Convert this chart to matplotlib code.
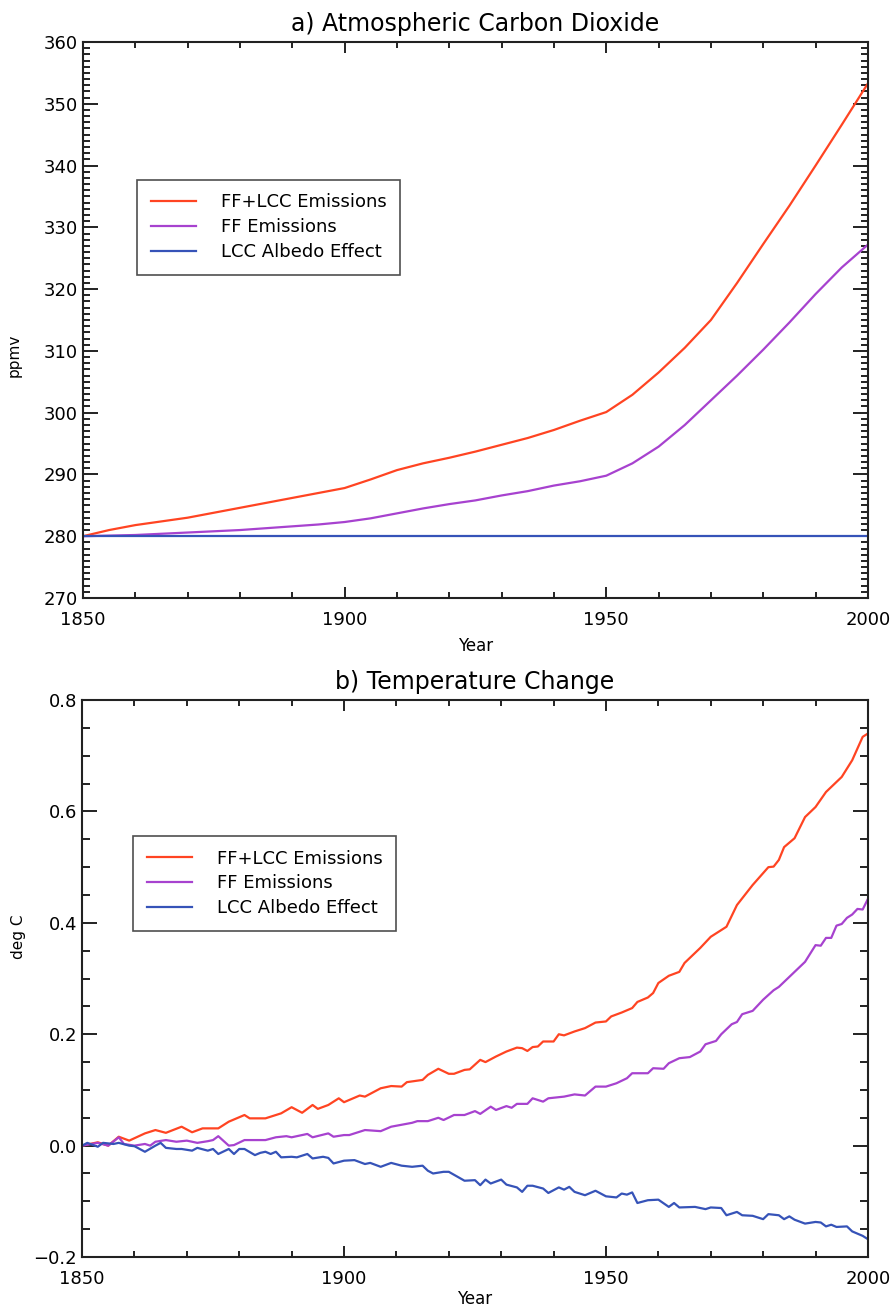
import matplotlib.pyplot as plt
from matplotlib.ticker import MultipleLocator, FuncFormatter

# ---- panel a: atmospheric CO2 (ppmv) ----
co2_years = [1850, 1855, 1860, 1865, 1870, 1875, 1880, 1885, 1890, 1895, 1900,
             1905, 1910, 1915, 1920, 1925, 1930, 1935, 1940, 1945, 1950,
             1955, 1960, 1965, 1970, 1975, 1980, 1985, 1990, 1995, 2000]
co2_ff_lcc = [280.0, 281.0, 281.8, 282.4, 283.0, 283.8, 284.6, 285.4, 286.2, 287.0, 287.8,
              289.2, 290.7, 291.8, 292.7, 293.7, 294.8, 295.9, 297.2, 298.7, 300.1,
              302.9, 306.5, 310.5, 315.0, 321.0, 327.3, 333.5, 340.0, 346.6, 353.3]
co2_ff = [280.0, 280.1, 280.2, 280.4, 280.6, 280.8, 281.0, 281.3, 281.6, 281.9, 282.3,
          282.9, 283.7, 284.5, 285.2, 285.8, 286.6, 287.3, 288.2, 288.9, 289.8,
          291.8, 294.5, 298.0, 302.0, 306.0, 310.2, 314.6, 319.2, 323.5, 327.2]
co2_lcc = [280.0] * len(co2_years)

# ---- panel b: temperature change (deg C) ----
t_ff_lcc_years = [1850, 1852, 1853, 1855, 1857, 1859, 1862, 1864, 1866, 1869, 1871, 1873,
                  1876, 1878, 1881, 1882, 1885, 1888, 1890, 1892, 1894, 1895, 1897, 1899,
                  1900, 1903, 1904, 1907, 1909, 1911, 1912, 1915, 1916, 1918, 1920, 1921,
                  1923, 1924, 1926, 1927, 1929, 1931, 1933, 1934, 1935, 1936, 1937, 1938,
                  1940, 1941, 1942, 1944, 1946, 1948, 1950, 1951, 1953, 1955, 1956, 1958,
                  1959, 1960, 1962, 1964, 1965, 1968, 1970, 1973, 1975, 1978, 1981, 1982,
                  1983, 1984, 1986, 1988, 1990, 1992, 1995, 1997, 1999, 2000]
t_ff_lcc = [0.000, 0.004, 0.006, 0.000, 0.016, 0.009, 0.022, 0.028, 0.023, 0.034, 0.024, 0.031,
            0.031, 0.043, 0.055, 0.049, 0.049, 0.058, 0.069, 0.059, 0.073, 0.066, 0.073, 0.085,
            0.078, 0.090, 0.088, 0.103, 0.107, 0.106, 0.114, 0.118, 0.127, 0.138, 0.129, 0.129,
            0.136, 0.137, 0.154, 0.150, 0.160, 0.169, 0.176, 0.175, 0.170, 0.177, 0.178, 0.187,
            0.187, 0.200, 0.198, 0.205, 0.211, 0.221, 0.223, 0.232, 0.239, 0.247, 0.258, 0.266,
            0.274, 0.292, 0.305, 0.312, 0.328, 0.355, 0.375, 0.393, 0.432, 0.468, 0.500, 0.501,
            0.513, 0.536, 0.552, 0.590, 0.608, 0.635, 0.662, 0.692, 0.734, 0.740]

t_ff_years = [1850, 1853, 1855, 1857, 1858, 1860, 1862, 1863, 1864, 1866, 1868, 1870, 1872,
              1874, 1875, 1876, 1878, 1879, 1881, 1883, 1885, 1887, 1889, 1890, 1893, 1894,
              1897, 1898, 1900, 1901, 1904, 1907, 1909, 1913, 1914, 1916, 1918, 1919, 1921,
              1923, 1925, 1926, 1928, 1929, 1931, 1932, 1933, 1935, 1936, 1938, 1939, 1941,
              1942, 1944, 1946, 1948, 1950, 1952, 1954, 1955, 1958, 1959, 1961, 1962, 1964,
              1966, 1968, 1969, 1971, 1972, 1974, 1975, 1976, 1978, 1980, 1982, 1983, 1985,
              1988, 1990, 1991, 1992, 1993, 1994, 1995, 1996, 1997, 1998, 1999, 2000]
t_ff = [0.000, 0.005, 0.000, 0.015, 0.003, 0.000, 0.003, 0.000, 0.007, 0.010, 0.007, 0.009, 0.005,
        0.008, 0.010, 0.017, 0.000, 0.001, 0.010, 0.010, 0.010, 0.015, 0.017, 0.015, 0.021, 0.015,
        0.022, 0.016, 0.019, 0.019, 0.028, 0.026, 0.034, 0.041, 0.044, 0.044, 0.050, 0.046, 0.055,
        0.055, 0.062, 0.057, 0.070, 0.064, 0.071, 0.068, 0.075, 0.075, 0.085, 0.079, 0.085, 0.087,
        0.088, 0.092, 0.090, 0.106, 0.106, 0.112, 0.121, 0.130, 0.130, 0.139, 0.138, 0.148, 0.157,
        0.159, 0.169, 0.182, 0.188, 0.200, 0.218, 0.222, 0.236, 0.242, 0.262, 0.279, 0.285, 0.303,
        0.330, 0.360, 0.359, 0.373, 0.373, 0.395, 0.398, 0.409, 0.415, 0.425, 0.424, 0.443]

t_lcc_years = [1850, 1851, 1853, 1854, 1856, 1857, 1859, 1860, 1861, 1862, 1864, 1865, 1866,
               1868, 1869, 1871, 1872, 1874, 1875, 1876, 1878, 1879, 1880, 1881, 1883, 1884,
               1885, 1886, 1887, 1888, 1890, 1891, 1893, 1894, 1896, 1897, 1898, 1900, 1902,
               1904, 1905, 1907, 1909, 1911, 1913, 1915, 1916, 1917, 1919, 1920, 1923, 1925,
               1926, 1927, 1928, 1930, 1931, 1933, 1934, 1935, 1936, 1938, 1939, 1941, 1942,
               1943, 1944, 1946, 1948, 1950, 1952, 1953, 1954, 1955, 1956, 1958, 1960, 1962,
               1963, 1964, 1967, 1969, 1970, 1972, 1973, 1975, 1976, 1978, 1980, 1981, 1983,
               1984, 1985, 1986, 1988, 1990, 1991, 1992, 1993, 1994, 1996, 1997, 1999, 2000]
t_lcc = [0.000, 0.005, -0.002, 0.005, 0.003, 0.005, 0.000, -0.001, -0.006, -0.011, 0.000, 0.005, -0.004,
         -0.006, -0.006, -0.009, -0.004, -0.009, -0.006, -0.015, -0.006, -0.015, -0.006, -0.006, -0.017, -0.013,
         -0.011, -0.015, -0.011, -0.021, -0.020, -0.021, -0.015, -0.023, -0.020, -0.022, -0.032, -0.027, -0.026,
         -0.033, -0.031, -0.038, -0.031, -0.036, -0.038, -0.036, -0.045, -0.050, -0.047, -0.047, -0.063, -0.062,
         -0.071, -0.061, -0.068, -0.061, -0.070, -0.075, -0.083, -0.072, -0.072, -0.077, -0.085, -0.075, -0.079,
         -0.074, -0.083, -0.089, -0.081, -0.091, -0.093, -0.086, -0.088, -0.084, -0.103, -0.098, -0.097, -0.110,
         -0.103, -0.111, -0.110, -0.114, -0.111, -0.112, -0.125, -0.119, -0.125, -0.126, -0.132, -0.123, -0.125,
         -0.132, -0.127, -0.133, -0.140, -0.137, -0.138, -0.145, -0.142, -0.146, -0.145, -0.154, -0.162, -0.168]

labels = ["FF+LCC Emissions", "FF Emissions", "LCC Albedo Effect"]
colors = ["#ff4422", "#a742cf", "#3653b8"]

fig = plt.figure(figsize=(8.92, 13.12), dpi=100)
ax1 = fig.add_axes([0.093, 0.5442, 0.880, 0.4238])
ax2 = fig.add_axes([0.092, 0.0419, 0.881, 0.4245])


def style_axis(ax, xpad):
    for s in ax.spines.values():
        s.set_linewidth(1.5)
        s.set_color("#222222")
    ax.tick_params(which="both", direction="in", top=True, right=True,
                   width=1.4, colors="#222222", labelsize=13, labelcolor="black")
    ax.tick_params(axis="x", which="major", length=8, pad=9)
    ax.tick_params(axis="x", which="minor", length=4)
    ax.set_xlim(1850, 2000)
    ax.xaxis.set_major_locator(MultipleLocator(50))
    ax.xaxis.set_minor_locator(MultipleLocator(10))
    ax.set_xlabel("Year", fontsize=12, labelpad=xpad)


# panel a
ax1.plot(co2_years, co2_ff_lcc, color=colors[0], lw=1.6, label=labels[0])
ax1.plot(co2_years, co2_ff, color=colors[1], lw=1.6, label=labels[1])
ax1.plot(co2_years, co2_lcc, color=colors[2], lw=1.6, label=labels[2])
style_axis(ax1, 6)
ax1.set_ylim(270, 360)
ax1.yaxis.set_major_locator(MultipleLocator(10))
ax1.yaxis.set_minor_locator(MultipleLocator(1))
ax1.tick_params(axis="y", which="major", length=11)
ax1.tick_params(axis="y", which="minor", length=5)
ax1.set_ylabel("ppmv", fontsize=11)
ax1.yaxis.set_label_coords(-0.078, 0.437)
ax1.set_title("a) Atmospheric Carbon Dioxide", fontsize=17, pad=8)

# panel b
ax2.plot(t_ff_lcc_years, t_ff_lcc, color=colors[0], lw=1.6, label=labels[0])
ax2.plot(t_ff_years, t_ff, color=colors[1], lw=1.6, label=labels[1])
ax2.plot(t_lcc_years, t_lcc, color=colors[2], lw=1.6, label=labels[2])
style_axis(ax2, 2)
ax2.set_ylim(-0.2, 0.8)
ax2.yaxis.set_major_locator(MultipleLocator(0.2))
ax2.yaxis.set_minor_locator(MultipleLocator(0.05))
ax2.yaxis.set_major_formatter(FuncFormatter(lambda v, p: f"{v:.1f}".replace("-", "\u2212")))
ax2.tick_params(axis="y", which="major", length=11)
ax2.tick_params(axis="y", which="minor", length=6)
ax2.set_ylabel("deg C", fontsize=11)
ax2.yaxis.set_label_coords(-0.071, 0.575)
ax2.set_title("b) Temperature Change", fontsize=17, pad=8)

for ax, anchor in [(ax1, (0.069, 0.752)), (ax2, (0.065, 0.756))]:
    leg = ax.legend(loc="upper left", bbox_to_anchor=anchor, fontsize=13,
                    frameon=True, fancybox=False, edgecolor="#222222",
                    handlelength=2.5, handletextpad=1.4, labelspacing=0.38,
                    borderpad=0.75, borderaxespad=0)
    leg.get_frame().set_linewidth(1.2)

fig.savefig("out.png", dpi=100)
